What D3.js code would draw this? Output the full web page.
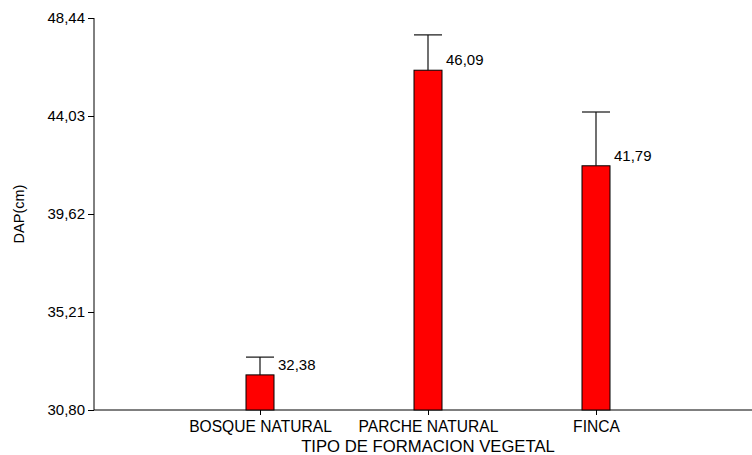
<!DOCTYPE html>
<html>
<head>
<meta charset="utf-8">
<script src="https://cdn.jsdelivr.net/npm/d3@7"></script>
<style>
  html, body { margin: 0; padding: 0; background: #fff; }
  svg text { font-family: "Liberation Sans", Arial, sans-serif; fill: #000; }
</style>
</head>
<body>
<svg id="chart" width="752" height="455"></svg>
<script>
// Mean DAP (cm) by vegetation type, with upper error limits
const categories = ["BOSQUE NATURAL", "PARCHE NATURAL", "FINCA"];
const means = [32.38, 46.09, 41.79];
const upperLimits = [33.18, 47.68, 44.21];
const yTicks = [30.80, 35.21, 39.62, 44.03, 48.44];
const yLabel = "DAP(cm)";
const xLabel = "TIPO DE FORMACION VEGETAL";

const svg = d3.select("#chart");
const fmt = v => d3.format(".2f")(v).replace(".", ",");

const axisX0 = 94, axisX1 = 752, axisY0 = 410, axisY1 = 18;

const y = d3.scaleLinear().domain([yTicks[0], yTicks[yTicks.length - 1]]).range([axisY0, axisY1]);
const x = d3.scalePoint().domain(categories).range([260, 596]);
const barW = 28;

// Y axis
const yAxis = svg.append("g")
  .attr("transform", `translate(${axisX0},0)`)
  .call(d3.axisLeft(y).tickValues(yTicks).tickFormat(fmt).tickSize(6).tickPadding(3));
yAxis.select(".domain").attr("stroke", "#000").attr("d", `M0,${axisY1}V${axisY0}`);
yAxis.selectAll(".tick line").attr("stroke", "#000");
yAxis.selectAll(".tick text").style("font-size", "15px").attr("fill", "#000");

// X axis
const xAxis = svg.append("g")
  .attr("transform", `translate(0,${axisY0})`)
  .call(d3.axisBottom(x).tickSize(5).tickPadding(6));
xAxis.select(".domain").attr("stroke", "#000").attr("d", `M${axisX0},0H${axisX1}`);
xAxis.selectAll(".tick line").attr("stroke", "#000");
xAxis.selectAll(".tick text").style("font-size", "15.6px").attr("fill", "#000");

// Bars
svg.append("g").selectAll("rect")
  .data(categories)
  .join("rect")
  .attr("x", (d) => x(d) - barW / 2)
  .attr("y", (d, i) => y(means[i]))
  .attr("width", barW)
  .attr("height", (d, i) => y(yTicks[0]) - y(means[i]))
  .attr("fill", "#ff0000")
  .attr("stroke", "#000")
  .attr("stroke-width", 1);

// Error bars (upper whisker with cap)
const err = svg.append("g").attr("stroke", "#111").attr("stroke-width", 1.2);
categories.forEach((c, i) => {
  err.append("line")
    .attr("x1", x(c)).attr("x2", x(c))
    .attr("y1", y(means[i])).attr("y2", y(upperLimits[i]));
  err.append("line")
    .attr("x1", x(c) - barW / 2).attr("x2", x(c) + barW / 2)
    .attr("y1", y(upperLimits[i])).attr("y2", y(upperLimits[i]));
});

// Value labels
svg.append("g").selectAll("text")
  .data(categories)
  .join("text")
  .attr("x", (d) => x(d) + barW / 2 + 4)
  .attr("y", (d, i) => y(means[i]) - 5)
  .style("font-size", "15px")
  .text((d, i) => fmt(means[i]));

// Axis titles
svg.append("text")
  .attr("transform", `translate(24,${(axisY0 + axisY1) / 2}) rotate(-90)`)
  .attr("text-anchor", "middle")
  .style("font-size", "14.5px")
  .text(yLabel);

svg.append("text")
  .attr("x", x(categories[1]))
  .attr("y", 452)
  .attr("text-anchor", "middle")
  .style("font-size", "16.7px")
  .text(xLabel);
</script>
</body>
</html>
